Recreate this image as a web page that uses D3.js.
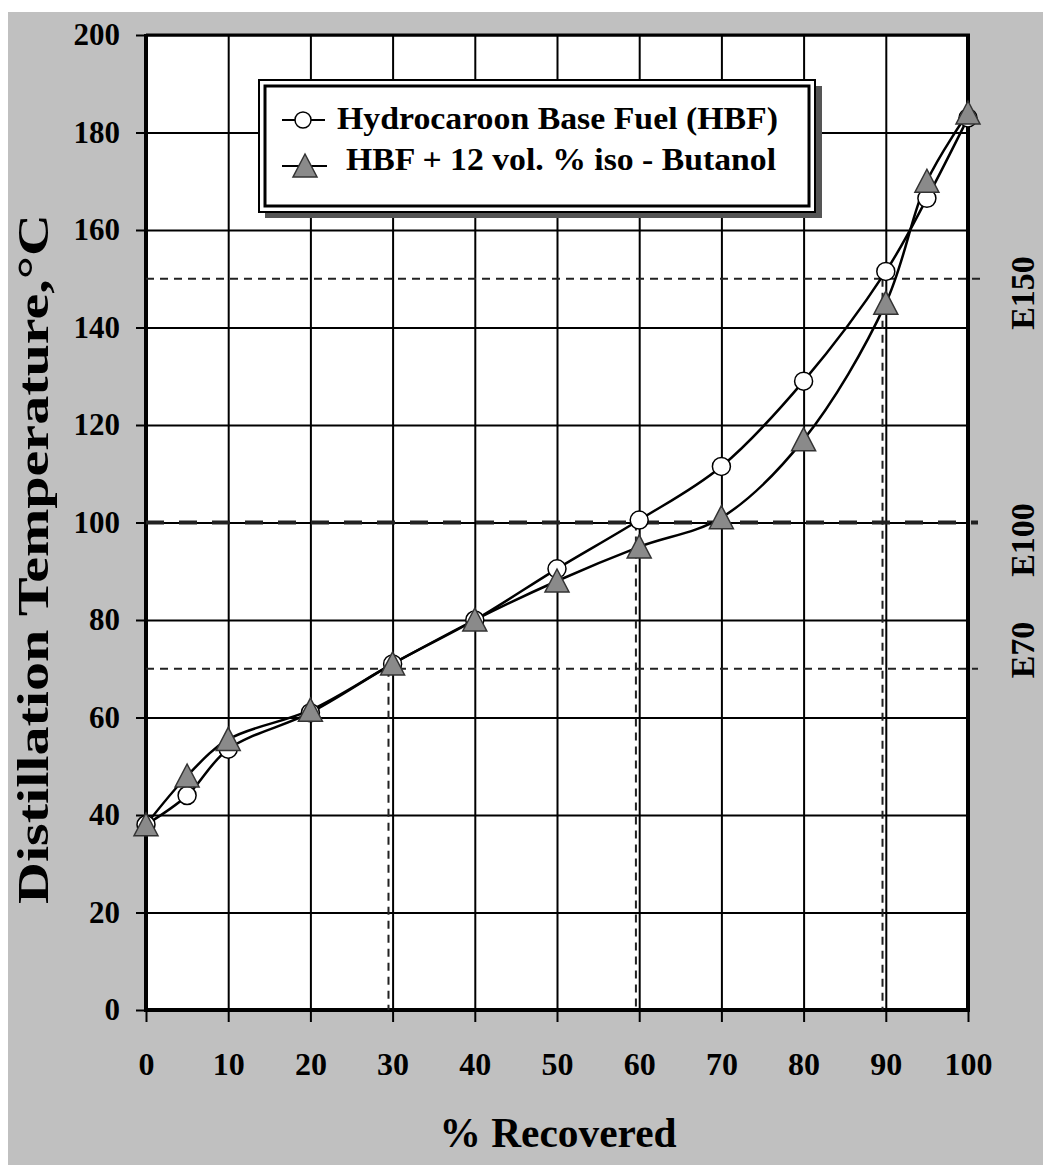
<!DOCTYPE html>
<html>
<head>
<meta charset="utf-8">
<script src="https://cdn.jsdelivr.net/npm/d3@7"></script>
<style>
  body { margin: 0; background: #fff; }
  text { font-family: "Liberation Serif", "DejaVu Serif", serif; font-weight: bold; fill: #000; }
</style>
</head>
<body>
<svg id="chart" width="1043" height="1165"></svg>
<script>
// Distillation curves, % recovered vs temperature (°C)
const recovered = [0, 5, 10, 20, 30, 40, 50, 60, 70, 80, 90, 95, 100];
const hbfTemp = [38, 44, 53.5, 61, 71, 80, 90.5, 100.5, 111.5, 129, 151.5, 166.5, 183];
const butanolTemp = [38, 48, 55.5, 61.5, 71, 80, 88, 95, 101, 117, 145, 170, 184];

const seriesNames = ['Hydrocaroon Base Fuel (HBF)', 'HBF + 12 vol. % iso - Butanol'];

// E70 / E100 / E150 reference temperatures and where HBF crosses them
const eLevels = [70, 100, 150];
const eLabels = ['E70', 'E100', 'E150'];
const eCross = [29.5, 59.6, 89.6];

const xTicks = [0, 10, 20, 30, 40, 50, 60, 70, 80, 90, 100];
const yTicks = [0, 20, 40, 60, 80, 100, 120, 140, 160, 180, 200];

const svg = d3.select('#chart');

// grey page behind the plot
svg.append('rect')
    .attr('x', 8).attr('y', 12)
    .attr('width', 1043 - 8).attr('height', 1165 - 12)
    .attr('fill', '#c0c0c0');

const x = d3.scaleLinear().domain([0, 100]).range([146, 968]);
const y = d3.scaleLinear().domain([0, 200]).range([1010, 35]);

// plot area
svg.append('rect')
    .attr('x', x(0)).attr('y', y(200))
    .attr('width', x(100) - x(0)).attr('height', y(0) - y(200))
    .attr('fill', '#fff');

// grid lines
svg.append('g')
    .attr('transform', 'translate(0,' + y(0) + ')')
    .call(d3.axisBottom(x).tickValues(xTicks).tickSize(-(y(0) - y(200))).tickFormat(''))
    .call(g => g.select('.domain').remove())
    .call(g => g.selectAll('line').attr('stroke', '#000').attr('stroke-width', 2));
svg.append('g')
    .attr('transform', 'translate(' + x(0) + ',0)')
    .call(d3.axisLeft(y).tickValues(yTicks).tickSize(-(x(100) - x(0))).tickFormat(''))
    .call(g => g.select('.domain').remove())
    .call(g => g.selectAll('line').attr('stroke', '#000').attr('stroke-width', 2));

// axes with outward ticks and labels
let xAxis = svg.append('g')
    .attr('transform', 'translate(0,' + y(0) + ')')
    .call(d3.axisBottom(x).tickValues(xTicks).tickSize(12).tickPadding(30).tickSizeOuter(0));
xAxis.select('.domain').remove();
xAxis.selectAll('line').attr('stroke', '#000').attr('stroke-width', 2);
xAxis.selectAll('text').attr('font-size', 32).attr('font-family', null);

let yAxis = svg.append('g')
    .attr('transform', 'translate(' + x(0) + ',0)')
    .call(d3.axisLeft(y).tickValues(yTicks).tickSize(10).tickPadding(16).tickSizeOuter(0));
yAxis.select('.domain').remove();
yAxis.selectAll('line').attr('stroke', '#000').attr('stroke-width', 2);
yAxis.selectAll('text').attr('font-size', 31).attr('font-family', null);

// plot frame
svg.append('line').attr('x1', x(0)).attr('x2', x(0)).attr('y1', y(200) - 1).attr('y2', y(0) + 2)
    .attr('stroke', '#000').attr('stroke-width', 4);
svg.append('line').attr('x1', x(0)).attr('x2', x(100) + 2).attr('y1', y(0)).attr('y2', y(0))
    .attr('stroke', '#000').attr('stroke-width', 4);
svg.append('line').attr('x1', x(100)).attr('x2', x(100)).attr('y1', y(200) - 1).attr('y2', y(0) + 2)
    .attr('stroke', '#000').attr('stroke-width', 4);
svg.append('line').attr('x1', x(0)).attr('x2', x(100) + 2).attr('y1', y(200)).attr('y2', y(200))
    .attr('stroke', '#000').attr('stroke-width', 3);

// E-level dashed lines
eLevels.forEach((lvl, i) => {
  let thick = lvl === 100;
  svg.append('line')
      .attr('x1', x(0)).attr('x2', x(100) + (lvl === 150 ? 16 : 10))
      .attr('y1', y(lvl)).attr('y2', y(lvl))
      .attr('stroke', '#222')
      .attr('stroke-width', thick ? 4 : 2)
      .attr('stroke-dasharray', thick ? '18,15' : '8,6');
  svg.append('line')
      .attr('x1', x(eCross[i])).attr('x2', x(eCross[i]))
      .attr('y1', y(lvl)).attr('y2', y(0))
      .attr('stroke', '#222')
      .attr('stroke-width', 2)
      .attr('stroke-dasharray', '8,6');
});

// E labels on the right, rotated
const eLabelY = [650, 540, 293];
eLabels.forEach((lbl, i) => {
  svg.append('text')
      .attr('transform', 'translate(1034,' + eLabelY[i] + ') rotate(-90)')
      .attr('text-anchor', 'middle')
      .attr('font-size', 34)
      .text(lbl);
});

// curves
const line = d3.line()
    .x((d, i) => x(recovered[i]))
    .y(d => y(d))
    .curve(d3.curveCatmullRom.alpha(0.5));

svg.append('path').datum(hbfTemp)
    .attr('d', line).attr('fill', 'none').attr('stroke', '#000').attr('stroke-width', 2.5);
svg.append('path').datum(butanolTemp)
    .attr('d', line).attr('fill', 'none').attr('stroke', '#000').attr('stroke-width', 2.5);

const triangle = 'M0,-12 L12,11 L-12,11 Z';

svg.append('g').selectAll('circle')
    .data(hbfTemp)
    .join('circle')
    .attr('cx', (d, i) => x(recovered[i]))
    .attr('cy', d => y(d))
    .attr('r', 9)
    .attr('fill', '#fff')
    .attr('stroke', '#000')
    .attr('stroke-width', 1.5);

svg.append('g').selectAll('path')
    .data(butanolTemp)
    .join('path')
    .attr('transform', (d, i) => 'translate(' + x(recovered[i]) + ',' + y(d) + ')')
    .attr('d', triangle)
    .attr('fill', '#8a8a8a')
    .attr('stroke', '#333')
    .attr('stroke-width', 1.5);

// legend box
const lg = svg.append('g');
lg.append('rect').attr('x', 265).attr('y', 86).attr('width', 557).attr('height', 132).attr('fill', '#555');
lg.append('rect').attr('x', 259).attr('y', 80).attr('width', 556).attr('height', 132)
    .attr('fill', '#fff').attr('stroke', '#000').attr('stroke-width', 2);
lg.append('rect').attr('x', 265).attr('y', 86).attr('width', 544).attr('height', 120)
    .attr('fill', 'none').attr('stroke', '#000').attr('stroke-width', 3);

lg.append('line').attr('x1', 282).attr('x2', 325).attr('y1', 120).attr('y2', 120)
    .attr('stroke', '#000').attr('stroke-width', 2);
lg.append('circle').attr('cx', 303).attr('cy', 120).attr('r', 8)
    .attr('fill', '#fff').attr('stroke', '#000').attr('stroke-width', 1.5);
lg.append('line').attr('x1', 282).attr('x2', 327).attr('y1', 166).attr('y2', 166)
    .attr('stroke', '#000').attr('stroke-width', 2);
lg.append('path').attr('transform', 'translate(305,166)').attr('d', triangle)
    .attr('fill', '#8a8a8a').attr('stroke', '#333').attr('stroke-width', 1.5);

lg.append('text').attr('x', 337).attr('y', 129).attr('font-size', 32)
    .attr('textLength', 441).attr('lengthAdjust', 'spacingAndGlyphs').text(seriesNames[0]);
lg.append('text').attr('x', 346).attr('y', 170).attr('font-size', 32)
    .attr('textLength', 430).attr('lengthAdjust', 'spacingAndGlyphs').text(seriesNames[1]);

// axis titles
svg.append('text')
    .attr('x', 558).attr('y', 1147)
    .attr('text-anchor', 'middle')
    .attr('font-size', 42)
    .attr('textLength', 237).attr('lengthAdjust', 'spacingAndGlyphs')
    .text('% Recovered');

svg.append('text')
    .attr('transform', 'translate(48,559) rotate(-90)')
    .attr('text-anchor', 'middle')
    .attr('font-size', 44)
    .attr('textLength', 690).attr('lengthAdjust', 'spacingAndGlyphs')
    .text('Distillation Temperature,°C');
</script>
</body>
</html>
